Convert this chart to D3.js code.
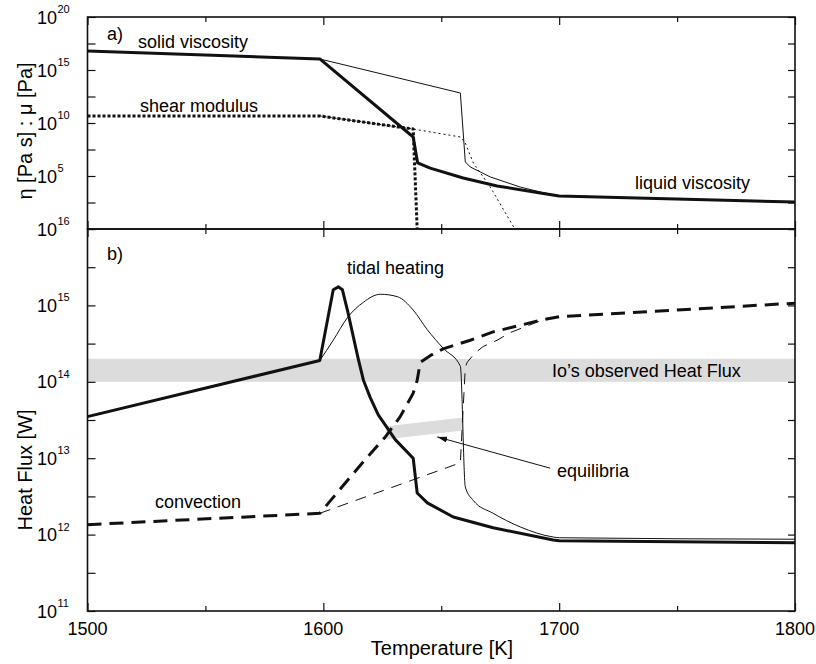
<!DOCTYPE html>
<html><head><meta charset="utf-8">
<script src="https://cdn.jsdelivr.net/npm/d3@7"></script>
<style>
body{margin:0;background:#fff}
svg text{font-family:"Liberation Sans",Arial,Helvetica,sans-serif;fill:#000}
</style>
</head><body>
<svg id="chart" width="816" height="664"></svg>
<script>
// ---------------- DATA ----------------
const tempDomain = [1500, 1800];
const xMajorTicks = [1500, 1600, 1700, 1800];
const xMinorTicks = [1550, 1650, 1750];
const panelADomain = [1e0, 1e20];
const panelATicks = [1e0, 3.162e2, 1e5, 3.162e7, 1e10, 3.162e12, 1e15, 3.162e17, 1e20];
const panelALabelExps = [20, 15, 10, 5];
const panelBDomain = [1e11, 1e16];
const panelBTicks = [1e11, 3.162e11, 1e12, 3.162e12, 1e13, 3.162e13, 1e14, 3.162e14, 1e15, 3.162e15, 1e16];
const panelBLabelExps = [16, 15, 14, 13, 12, 11];

// panel a: viscosity [Pa s] and shear modulus [Pa]  ([T, value])
const viscThick = [[1500,6.2e16],[1598.5,1.1e16],[1638.1,4.8e8],[1640.0,1.7e6],[1645.3,5.6e5],[1659.3,6.5e4],[1673.7,1.15e4],[1692,2.5e3],[1700,1.3e3],[1800,3.5e2]];
const viscThin  = [[1598.5,1.1e16],[1658.1,6.8e12],[1660.2,2.1e6],[1662.3,7.1e5],[1670.8,8.1e4],[1683.5,9.1e3],[1692,3.1e3],[1700,1.3e3]];
const shearThick = [[1500,4.6e10],[1598.5,4.6e10],[1638.1,2.7e9],[1639.8,1e0]];
const shearThin  = [[1598.5,4.6e10],[1638.1,2.7e9],[1658.1,4.8e8],[1660.2,1.3e8],[1663.6,1.7e6],[1670.8,9.1e3],[1681.2,1e0]];

// panel b: heat flux [W]
const tidalThick = [[1500,3.5e13],[1598.5,1.9e14],[1604.2,1.6e15],[1606.4,1.75e15],[1608.1,1.6e15],[1610.2,8.7e14],[1612.7,3.9e14],[1614.8,2.0e14],[1617.0,1.05e14],[1619.9,6.2e13],[1623.3,3.7e13],[1627.1,2.5e13],[1630.5,1.75e13],[1638.1,1.0e13],[1639.8,3.5e12],[1644.1,2.6e12],[1655.1,1.7e12],[1672.0,1.23e12],[1697.5,8.5e11],[1700,8.3e11],[1800,7.8e11]];
const tidalThin  = [[1598.5,1.9e14],[1604.2,3.5e14],[1610.2,6.9e14],[1617.0,1.1e15],[1624.2,1.4e15],[1631.4,1.3e15],[1638.1,8.7e14],[1644.1,4.8e14],[1650.8,2.75e14],[1658.1,1.6e14],[1660.2,4.2e12],[1663.6,2.8e12],[1672.0,1.9e12],[1683.5,1.26e12],[1697.5,9.3e11],[1700,9.1e11],[1800,8.7e11]];
const convThick  = [[1500,1.35e12],[1598.5,1.9e12],[1615.7,8.1e12],[1626.3,1.9e13],[1632.6,3.5e13],[1638.1,7.1e13],[1639.8,1.05e14],[1641.1,1.8e14],[1645.3,2.2e14],[1650.8,2.7e14],[1662.3,3.5e14],[1672.0,4.5e14],[1693.2,6.5e14],[1700,7.1e14],[1800,1.07e15]];
const convThin   = [[1598.5,1.9e12],[1658.1,8.7e12],[1660.2,1.55e14],[1661.0,1.8e14],[1664.4,2.4e14],[1667.8,2.9e14],[1673.7,3.5e14],[1679.2,4.4e14],[1693.2,6.5e14],[1700,7.1e14]];
const ioBand = [1e14, 2e14];
const equilibria = [[1626.8,2.15e13],[1659.3,2.8e13]];
const arrowFrom = [1696.2, 7.4e12];
const arrowTo   = [1648.3, 1.9e13];

// ---------------- LAYOUT ----------------
const svg = d3.select("#chart");
const L = 87.5, R = 795, topA = 17, midY = 229, botB = 611;
const x = d3.scaleLinear().domain(tempDomain).range([L, R]);
const yA = d3.scaleLog().domain(panelADomain).range([midY, topA]);
const yB = d3.scaleLog().domain(panelBDomain).range([botB, midY]);
const ink = "#111";

const defs = svg.append("defs");
defs.append("clipPath").attr("id","clipA").append("rect").attr("x",L).attr("y",topA).attr("width",R-L).attr("height",midY-topA);
defs.append("clipPath").attr("id","clipB").append("rect").attr("x",L).attr("y",midY).attr("width",R-L).attr("height",botB-midY);
defs.append("marker").attr("id","arr").attr("viewBox","0 0 10 6").attr("refX",10).attr("refY",3)
  .attr("markerWidth",10).attr("markerHeight",6).attr("markerUnits","userSpaceOnUse").attr("orient","auto")
  .append("path").attr("d","M0,0 L10,3 L0,6 Z").attr("fill",ink);

// ---------- panel b background band ----------
const gB = svg.append("g").attr("clip-path","url(#clipB)");
gB.append("rect").attr("x",L).attr("width",R-L)
  .attr("y",yB(ioBand[1])).attr("height",yB(ioBand[0])-yB(ioBand[1])).attr("fill","#dcdcdc");
gB.append("path").datum(equilibria)
  .attr("d", d3.area().x(d=>x(d[0])).y0(d=>yB(d[1])-6.5).y1(d=>yB(d[1])+6.5))
  .attr("fill","#dcdcdc");

const lineA = d3.line().x(d=>x(d[0])).y(d=>yA(d[1]));
const lineB = d3.line().x(d=>x(d[0])).y(d=>yB(d[1]));
const lineBs = d3.line().x(d=>x(d[0])).y(d=>yB(d[1])).curve(d3.curveMonotoneX);

function draw(g, data, gen, w, dash){
  g.append("path").datum(data).attr("d",gen).attr("fill","none").attr("stroke",ink)
   .attr("stroke-width",w).attr("stroke-dasharray",dash||null).attr("stroke-linejoin","round");
}
const gA = svg.append("g").attr("clip-path","url(#clipA)");
draw(gA, shearThin, lineA, 1, "2,3");
draw(gA, viscThin, lineA, 1);
draw(gA, shearThick, lineA, 3, "3,2");
draw(gA, viscThick, lineA, 3);

draw(gB, convThin, lineB, 1, "11,8");
draw(gB, tidalThin, lineBs, 1);
draw(gB, convThick, lineB, 3, "14,8");
draw(gB, tidalThick, lineB, 3);

// arrow
svg.append("line").attr("x1",x(arrowFrom[0])).attr("y1",yB(arrowFrom[1]))
  .attr("x2",x(arrowTo[0])).attr("y2",yB(arrowTo[1]))
  .attr("stroke",ink).attr("stroke-width",1).attr("marker-end","url(#arr)");

// ---------- frames & ticks ----------
function ticks(gen, pos, vals, size){
  const g = svg.append("g").attr("transform",pos).call(gen.tickValues(vals).tickSize(size).tickSizeOuter(0).tickFormat(""));
  g.select(".domain").remove();
  g.selectAll("line").attr("stroke",ink).attr("stroke-width",1.2);
}
[[topA,"top"],[midY,"bottom"],[midY,"top"],[botB,"bottom"]].forEach(([yy,side])=>{
  const gen = side==="top"? ()=>d3.axisTop(x) : ()=>d3.axisBottom(x);
  ticks(gen(), `translate(0,${yy})`, xMajorTicks, -8);
  ticks(gen(), `translate(0,${yy})`, xMinorTicks, -5);
});
ticks(d3.axisLeft(yA), `translate(${L},0)`, panelATicks, -8);
ticks(d3.axisRight(yA), `translate(${R},0)`, panelATicks, -7);
ticks(d3.axisLeft(yB), `translate(${L},0)`, panelBTicks, -8);
ticks(d3.axisRight(yB), `translate(${R},0)`, panelBTicks, -7);

svg.append("rect").attr("x",L).attr("y",topA).attr("width",R-L).attr("height",midY-topA)
  .attr("fill","none").attr("stroke",ink).attr("stroke-width",1.6);
svg.append("rect").attr("x",L).attr("y",midY).attr("width",R-L).attr("height",botB-midY)
  .attr("fill","none").attr("stroke",ink).attr("stroke-width",1.6);

// x tick labels
svg.append("g").selectAll("text").data(xMajorTicks).join("text")
  .attr("x",d=>x(d)).attr("y",635).attr("text-anchor","middle").attr("font-size",18).text(d=>d);

// y tick labels with superscript exponents
function expLabels(scale, exps){
  const g = svg.append("g");
  exps.forEach(e=>{
    const yy = scale(Math.pow(10,e));
    g.append("text").attr("x",57).attr("y",yy+6.5).attr("text-anchor","end").attr("font-size",18).text("10");
    g.append("text").attr("x",57.5).attr("y",yy-4).attr("text-anchor","start").attr("font-size",11).text(e);
  });
}
expLabels(yA, panelALabelExps);
expLabels(yB, panelBLabelExps);

// axis titles
svg.append("text").attr("x",442).attr("y",655).attr("text-anchor","middle").attr("font-size",20).text("Temperature [K]");
svg.append("text").attr("transform",`translate(32,${(topA+midY)/2+8}) rotate(-90)`).attr("text-anchor","middle")
  .attr("font-size",20).text("η [Pa s] : μ [Pa]");
svg.append("text").attr("transform",`translate(32,470) rotate(-90)`).attr("text-anchor","middle")
  .attr("font-size",20).text("Heat Flux [W]");

// annotations
const ann = [
  ["a)",107,40],["solid viscosity",138,48],["shear modulus",140,112],["liquid viscosity",635,189],
  ["b)",107,260],["tidal heating",347,274],["Io\u2019s observed Heat Flux",552,377],
  ["convection",155,508],["equilibria",557,477]
];
svg.append("g").selectAll("text").data(ann).join("text")
  .attr("x",d=>d[1]).attr("y",d=>d[2]).attr("font-size",18).text(d=>d[0]);
</script>
</body></html>
